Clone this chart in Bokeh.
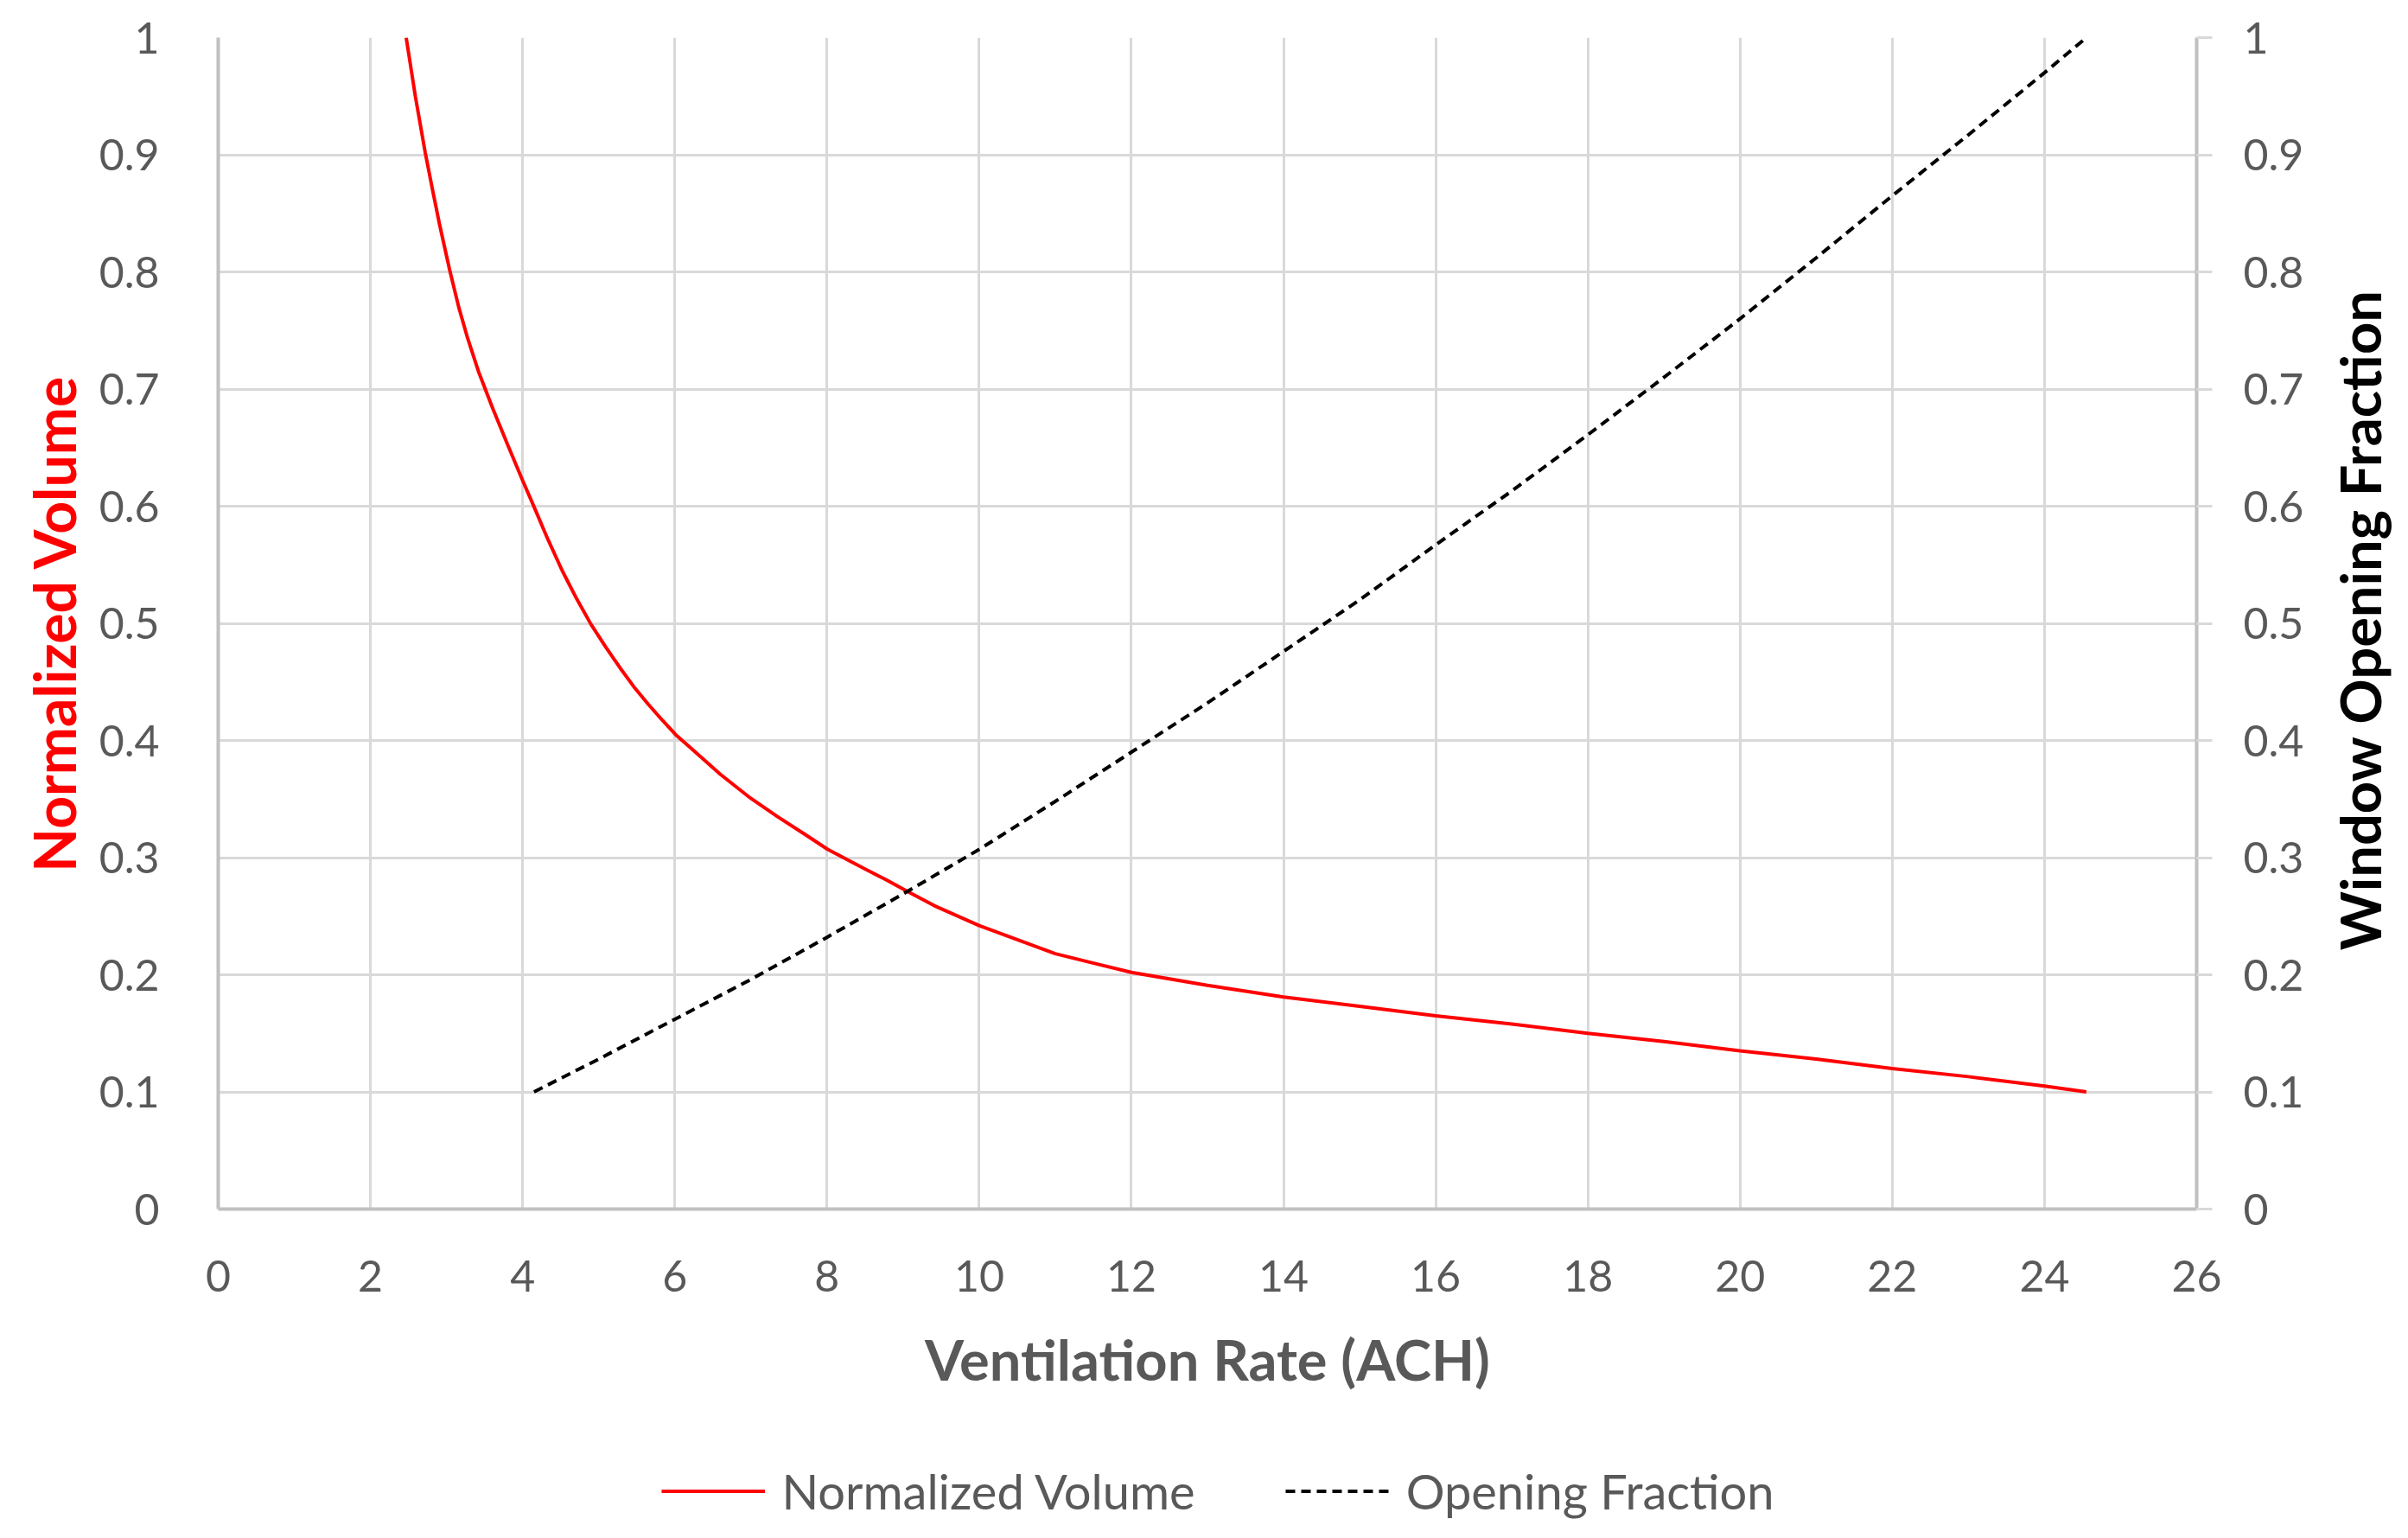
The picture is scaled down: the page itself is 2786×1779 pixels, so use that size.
from bokeh.plotting import figure
from bokeh.layouts import column, row
from bokeh.models import Range1d, LinearAxis, FixedTicker, Legend, LegendItem, Label
from bokeh.embed import file_html
from bokeh.resources import INLINE

# ---- data ----
x_vol = [2.47, 2.59, 2.72, 2.81, 2.91, 3.04, 3.16, 3.27, 3.42, 3.61, 3.80, 4.0, 4.14, 4.33,
         4.52, 4.71, 4.90, 5.09, 5.28, 5.46, 5.65, 5.84, 6.01, 6.22, 6.60, 6.97, 7.35, 7.73,
         8.01, 8.48, 8.78, 9.06, 9.41, 10.0, 11.0, 12.0, 13.0, 14.0, 15.0, 16.0, 17.0, 18.0,
         19.0, 20.0, 21.0, 22.0, 23.0, 24.0, 24.55]
norm_vol = [1.0, 0.950, 0.902, 0.872, 0.840, 0.802, 0.770, 0.745, 0.715, 0.683, 0.653, 0.622,
            0.601, 0.572, 0.545, 0.521, 0.499, 0.480, 0.462, 0.446, 0.431, 0.417, 0.405, 0.393,
            0.371, 0.352, 0.335, 0.319, 0.307, 0.291, 0.281, 0.271, 0.259, 0.242, 0.218,
            0.202, 0.191, 0.181, 0.173, 0.165, 0.158, 0.150, 0.143, 0.135, 0.128, 0.120,
            0.113, 0.105, 0.10]

x_open = [4.15, 5, 6, 7, 8, 9, 10, 11, 12, 13, 14, 15, 16, 17, 18, 19, 20, 21, 22, 23, 24, 24.55]
open_frac = [0.10, 0.128, 0.162, 0.196, 0.232, 0.269, 0.307, 0.348, 0.390, 0.432, 0.476, 0.520,
             0.567, 0.613, 0.661, 0.710, 0.760, 0.812, 0.865, 0.917, 0.970, 1.0]

x_ticks = [0, 2, 4, 6, 8, 10, 12, 14, 16, 18, 20, 22, 24, 26]
y_ticks = [0, 0.1, 0.2, 0.3, 0.4, 0.5, 0.6, 0.7, 0.8, 0.9, 1]
y_tick_labels = ["0", "0.1", "0.2", "0.3", "0.4", "0.5", "0.6", "0.7", "0.8", "0.9", "1"]

x_title = "Ventilation Rate (ACH)"
left_title = "Normalized Volume"
right_title = "Window Opening Fraction"
series_names = ["Normalized Volume", "Opening Fraction"]

FONT = "Lato"
TICK_COLOR = "#595959"
GRID = "#d9d9d9"
AXIS = "#c0c0c0"
TICK_SIZE = "50px"
TITLE_SIZE = "66px"
RED = "#ff0000"
W = 2786
MAIN_W = 2690
MAIN_H = 1674

p = figure(width=MAIN_W, height=MAIN_H, output_backend="svg", toolbar_location=None,
           x_range=Range1d(0, 26), y_range=Range1d(0, 1),
           min_border_left=252, min_border_right=MAIN_W - 2541, min_border_top=43,
           min_border_bottom=276)
p.outline_line_color = None
p.background_fill_color = "white"
p.border_fill_color = "white"
p.extra_y_ranges = {"right": Range1d(0, 1)}

overrides = {t: l for t, l in zip(y_ticks, y_tick_labels)}

# grids
p.xgrid.ticker = FixedTicker(ticks=x_ticks)
p.ygrid.ticker = FixedTicker(ticks=y_ticks)
for g in (p.xgrid, p.ygrid):
    g.grid_line_color = GRID
    g.grid_line_width = 3

# bottom axis
xa = p.xaxis[0]
xa.ticker = FixedTicker(ticks=x_ticks)
xa.axis_label = x_title
xa.axis_label_text_font = FONT
xa.axis_label_text_font_style = "bold"
xa.axis_label_text_font_size = "65px"
xa.axis_label_text_color = TICK_COLOR
xa.axis_label_standoff = 36
xa.major_label_text_font = FONT
xa.major_label_text_font_size = TICK_SIZE
xa.major_label_text_color = TICK_COLOR
xa.major_label_standoff = 59
xa.major_tick_out = 0
xa.major_tick_in = 0
xa.minor_tick_out = 0
xa.minor_tick_in = 0
xa.axis_line_color = AXIS
xa.axis_line_width = 4

# left axis
ya = p.yaxis[0]
ya.ticker = FixedTicker(ticks=y_ticks)
ya.major_label_overrides = overrides
ya.axis_label = left_title
ya.axis_label_text_font = FONT
ya.axis_label_text_font_style = "bold"
ya.axis_label_text_font_size = TITLE_SIZE
ya.axis_label_text_color = RED
ya.axis_label_standoff = 10
ya.major_label_text_font = FONT
ya.major_label_text_font_size = TICK_SIZE
ya.major_label_text_color = TICK_COLOR
ya.major_label_standoff = 68
ya.major_tick_out = 0
ya.major_tick_in = 0
ya.minor_tick_out = 0
ya.minor_tick_in = 0
ya.axis_line_color = AXIS
ya.axis_line_width = 4

# right axis
ra = LinearAxis(y_range_name="right", ticker=FixedTicker(ticks=y_ticks))
ra.major_label_overrides = overrides
ra.major_label_text_font = FONT
ra.major_label_text_font_size = TICK_SIZE
ra.major_label_text_color = TICK_COLOR
ra.major_label_standoff = 36
ra.major_tick_out = 18
ra.major_tick_in = 0
ra.major_tick_line_color = GRID
ra.major_tick_line_width = 3
ra.minor_tick_out = 0
ra.minor_tick_in = 0
ra.axis_line_color = AXIS
ra.axis_line_width = 4
p.add_layout(ra, "right")

# series
r_vol = p.line(x_vol, norm_vol, line_color=RED, line_width=4)
r_open = p.line(x_open, open_frac, line_color="black", line_width=4,
                line_dash="11 7", y_range_name="right")

# right-hand axis title strip (reads bottom-to-top)
rt = figure(width=W - MAIN_W, height=MAIN_H, output_backend="svg", toolbar_location=None,
            x_range=Range1d(0, 1), y_range=Range1d(0, MAIN_H),
            min_border_left=0, min_border_right=0, min_border_top=0, min_border_bottom=0)
rt.axis.visible = False
rt.grid.visible = False
rt.outline_line_color = None
rt.add_layout(Label(x=0.41, y=MAIN_H - 832, text=right_title, angle=90, angle_units="deg",
                    text_align="center", text_baseline="middle", text_font=FONT,
                    text_font_style="bold", text_font_size="65px", text_color="black"))

# legend strip below the chart
lg = figure(width=W, height=100, output_backend="svg", toolbar_location=None,
            x_range=Range1d(0, 1), y_range=Range1d(0, 1),
            min_border_left=31, min_border_right=0, min_border_top=0, min_border_bottom=0)
lg.axis.visible = False
lg.grid.visible = False
lg.outline_line_color = None
lg_vol = lg.line(x=[-2, -1], y=[-2, -1], line_color=RED, line_width=4)
lg_open = lg.line(x=[-2, -1], y=[-2, -1], line_color="black", line_width=4, line_dash="11 7")
legend = Legend(items=[LegendItem(label=series_names[0], renderers=[lg_vol]),
                       LegendItem(label=series_names[1], renderers=[lg_open])],
                orientation="horizontal", location="center",
                label_text_font=FONT, label_text_font_size="56px",
                label_text_color=TICK_COLOR, glyph_width=120, glyph_height=20,
                label_standoff=20, spacing=104, padding=0, margin=0,
                border_line_color=None, background_fill_alpha=0)
lg.add_layout(legend, "center")

layout = column(row(p, rt, spacing=0), lg, spacing=0)
open("out.html", "w").write(file_html(layout, INLINE))
